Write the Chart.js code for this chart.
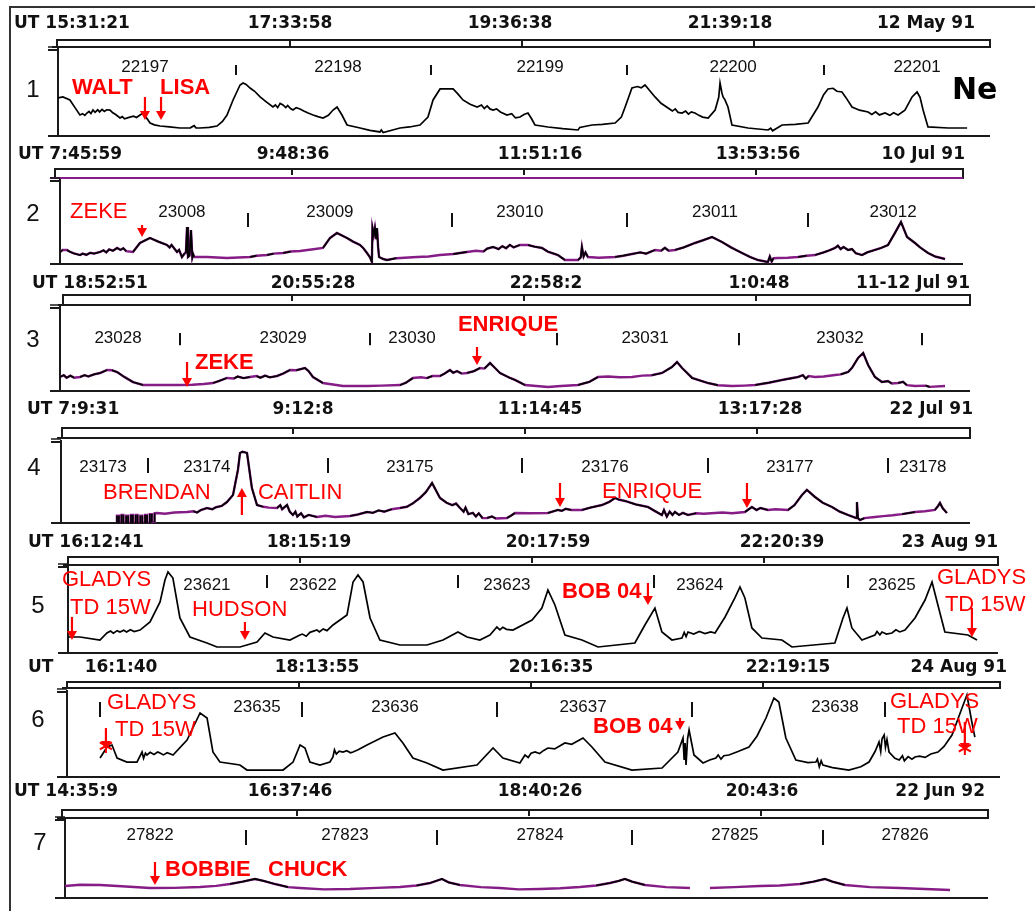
<!DOCTYPE html>
<html>
<head>
<meta charset="utf-8">
<script src="https://cdn.jsdelivr.net/npm/chart.js@4.4.1/dist/chart.umd.min.js"></script>
<style>
  html, body { margin: 0; padding: 0; background: #fff; }
  #page { position: relative; width: 1035px; height: 911px; overflow: hidden; background: #fff; }
  #page canvas { position: absolute; left: 0; top: 0; }
  #frame { position: absolute; left: 9px; top: 6px; width: 1040px; height: 920px;
           border-left: 2px solid #333; border-top: 2px solid #333; }
</style>
</head>
<body>
<div id="page"><div id="frame"></div></div>
<script>
// ---------------------------------------------------------------
// Electron density (Ne, relative units 0-100) along seven passes.
// x = minutes after the first UT label of each strip.
// ---------------------------------------------------------------

// Strip 1 - 12 May 91
const times1 = ['15:31:21', '17:33:58', '19:36:38', '21:39:18'];
const date1 = '12 May 91';
const orbits1 = ['22197', '22198', '22199', '22200', '22201'];
const storms1 = ['WALT', 'LISA'];
const ne1 = [[0,44.2],[2.6,45.4],[6.3,41.9],[9,33],[11.6,24.4],[13,26],[14.2,24],[15.3,26.7],[16.4,28.5],[17.4,26],[18.5,30.2],[19.6,27.5],[21,30.5],[22,28],[23.3,31],[24.5,28.5],[25.8,30.5],[27.5,30.2],[29,27],[30.5,25],[32.8,20.9],[34,22.5],[35.2,20],[38,22],[40,23],[41.5,21.5],[43.4,24.4],[45,26.7],[46.5,22],[48.7,15.1],[51,13],[54,11.6],[59,10.5],[64.5,9.3],[70,9.5],[72,12],[73,9.5],[75.1,9.3],[80,10],[84.1,11.6],[87,17],[89.4,24.4],[92.6,41.9],[96.3,59.3],[97.9,61.6],[99.5,60],[101.6,55.8],[104,52],[106.9,45.4],[110,40],[113.7,33.7],[115,36],[116.2,33],[117.5,38],[119,36.1],[120.5,33],[121.5,35.5],[123,32],[124.3,30.2],[126,33],[128,31.4],[130,29],[132,27],[134.9,24.4],[137.5,22.5],[140.2,20.9],[143,24],[145.5,30.2],[147.6,33.7],[150.2,24.4],[152.9,12.8],[159.8,9.3],[165,6.5],[170.3,4.7],[171,7],[172,4],[180.9,9.3],[186,10.5],[191.5,12.8],[195.7,22.1],[198.4,41.9],[202.1,54.7],[209,54.7],[211.5,49],[214.2,41.9],[218,37],[221.7,33.7],[224,36],[225.5,32],[227,35],[228.5,31.5],[230.1,30.2],[232,31.5],[234,28],[237.5,24.4],[240,26],[242,21],[244.4,22.1],[246.5,25],[248.6,26.7],[250.5,20],[252.3,12.8],[259.2,10.5],[267,8.5],[275.1,7],[276,10],[282.5,12.8],[288,13.5],[294.7,15.1],[298,22],[300,33.7],[303.6,55.8],[306.5,57.5],[308.5,56],[310.5,59.3],[315.8,45.4],[319,38],[322.7,32.6],[325,29],[326.5,31.5],[328,27.5],[330.1,26.7],[332,29],[333.5,25.5],[335,28],[336.9,26.7],[339,24],[341,22],[343.9,20.9],[347.6,30.2],[349.5,45],[350.2,61.6],[351.2,50],[351.8,45.4],[352.8,42],[354.4,33.7],[356.5,12.8],[365,9.3],[375.6,7],[377,9],[378,6],[383,12.8],[390,13.5],[396.8,15.1],[402,33.7],[405,48],[407.3,54.7],[410,55.5],[412,52],[414.7,51.2],[417,44],[420,33.7],[424,30],[428.5,27.9],[430.5,25],[432.5,28],[434.5,24.5],[437.5,26.7],[440,24],[442,27],[444.4,24.4],[448,30],[451.8,45.4],[454.4,51.2],[456,45],[457.6,30.2],[460.2,10.5],[470.8,9.3],[480.9,9.3]];

// Strip 2 - 10 Jul 91
const times2 = ['7:45:59', '9:48:36', '11:51:16', '13:53:56'];
const date2 = '10 Jul 91';
const orbits2 = ['23008', '23009', '23010', '23011', '23012'];
const storms2 = ['ZEKE'];
const ne2 = [[0,14.5],[1.5,17],[3.7,16.9],[5,15],[7,13],[10.6,10.8],[12,12.5],[14,11],[16,13.5],[18,12.5],[21.2,14.5],[23,16.5],[24.5,14],[26,17.5],[28,16],[30.2,19.3],[32,17],[33.5,19],[35,15.5],[38.6,14.5],[42.3,25.3],[47.6,31.3],[52,27],[56.6,22.9],[58,20],[59,23],[61.9,14.5],[63,17],[64.5,8.4],[66.1,13.3],[66.6,13.3],[67.2,44.6],[67.7,8.4],[68.5,10],[69.3,41],[70,8.4],[70.4,12],[71,8.4],[77.8,8.4],[88.3,7.2],[100.5,8.4],[104,10],[109.5,10.8],[113,12.5],[118,13.3],[122,15],[127,15.7],[133,17.5],[139.1,19.3],[142.8,31.3],[146.5,37.4],[151.8,31.3],[155,27],[158.7,22.9],[160.5,19],[162.4,13.3],[164,8],[165,2.4],[165.3,43.4],[166,35],[166.6,43.4],[167.3,30],[167.7,43.4],[168.3,20],[168.8,8.4],[171,6],[173,4.8],[178,7],[188.9,8.4],[195,9],[201,10.8],[208,12],[215.3,14.5],[220,16],[224,15],[226,18.5],[229.1,20.5],[232,18],[234,21.5],[236,19],[238,23],[240,20],[243.3,22.9],[247.6,22.9],[251,21],[255,19.3],[258,15],[263.4,10.8],[267.1,4.8],[274,4.8],[275.5,8],[276.1,20.5],[277,9],[278,14],[279.3,8.4],[285,7.5],[293.6,8.4],[298,10],[302.6,12],[307,14],[310,12.5],[314.8,16.9],[318,16],[320,19.5],[322,16],[325.3,16.9],[330,20],[335.9,25.3],[340,28.5],[344.9,32.5],[350.2,26.5],[355,20],[360.8,13.3],[365,8.5],[369.2,4.8],[374.5,2.4],[375.5,9],[376.5,3],[377.5,7],[379.8,7.2],[385,7.5],[390.4,8.4],[395,10],[399.4,10.8],[404,14],[407,16.5],[410,19.3],[411.5,22],[413,18],[414.5,20.5],[416.9,16.9],[419,18],[421,13],[424.3,10.8],[427,14],[431.1,16.9],[434,19],[438,22.9],[441.7,37.4],[444.9,50.6],[448.1,32.5],[452.3,25.3],[455,20],[459.2,13.3],[463,9],[468.2,6]];

// Strip 3 - 11-12 Jul 91
const times3 = ['18:52:51', '20:55:28', '22:58:2', '1:0:48'];
const date3 = '11-12 Jul 91';
const orbits3 = ['23028', '23029', '23030', '23031', '23032'];
const storms3 = ['ZEKE', 'ENRIQUE'];
const ne3 = [[0,16.9],[2,19],[3.5,16],[5.5,18.5],[7.5,16],[10.6,16.9],[13,19],[15,17.5],[18,20],[21.2,21.7],[24.9,25.3],[27.5,25],[30.2,22.9],[34,17],[38.6,10.8],[43.9,7.2],[63.5,7.2],[70,7.5],[76,8.5],[80.9,9.6],[84,12],[88.3,15.7],[92,15],[94,17.5],[97,15.5],[100.5,16.9],[104,18],[106,16],[108.5,18.5],[111,16.5],[114.8,18.1],[118,21],[121.7,25.3],[125,25],[129.6,27.7],[131.5,24],[133.8,16.9],[139.1,9.6],[149.7,6],[162.4,6],[170,6.5],[179.9,7.2],[183,10],[186.7,15.7],[191,16.5],[194,15.5],[197,18],[201,18.1],[203.5,21],[206.3,25.3],[208,22],[210,24],[212.5,21],[215.3,21.7],[219,24],[222.2,27.7],[224.5,27],[227.5,33.7],[230,28],[232.8,21.7],[238.1,15.7],[240.7,13.3],[246,7.2],[252,6],[258.2,4.8],[265,6],[274,7.2],[280,11],[284.6,16.9],[290,17.5],[296,16.5],[302.6,16.9],[308,18.5],[313,19],[318.5,21.7],[323.7,28.9],[326.4,34.9],[329.1,27.7],[334.4,15.7],[342.8,9.6],[348,7],[355.5,6],[362,6.5],[367.7,7.2],[375,10],[381.9,13.3],[386,15],[390.4,16.9],[393,19],[394.5,15],[396,18],[399.4,16.9],[404,17.5],[410,19.3],[413,20],[416.9,22.9],[419,28],[422.2,39.8],[424.9,45.8],[427.5,31.3],[431.1,16.9],[434.8,10.8],[438,12],[440,9],[443.3,9.6],[446,11],[448,7],[452.3,6],[458,6.5],[460,5],[468.2,6]];

// Strip 4 - 22 Jul 91
const times4 = ['7:9:31', '9:12:8', '11:14:45', '13:17:28'];
const date4 = '22 Jul 91';
const orbits4 = ['23173', '23174', '23175', '23176', '23177', '23178'];
const storms4 = ['BRENDAN', 'CAITLIN', 'ENRIQUE'];
const ne4 = [[29.6,0],[29.6,9],[30.6,9],[30.6,0],[32,0],[32,10],[33,10],[33,0],[34.5,0],[34.5,9],[35.5,9],[35.5,0],[37,0],[37,10],[38,10],[38,0],[39.5,0],[39.5,10],[40.5,10],[40.5,0],[42,0],[42,9],[43,9],[43,0],[44.5,0],[44.5,10],[45.5,10],[45.5,0],[47,0],[47,11],[48,11],[48,1],[49.5,1],[49.5,12],[50.8,12.4],[55,11.5],[60,13],[66.7,13.6],[70,14.5],[72,13],[74,16],[77.2,18.5],[80,17],[82,19.5],[85,21],[87.8,25.9],[91,34.6],[93.6,65.5],[94.7,86.5],[96,88],[98.4,86.5],[101,43.2],[103.7,22.2],[107,20],[110,19],[114.3,18.5],[116,22],[117,17],[119.6,22.2],[121,14],[122.7,9.9],[124,14],[125,8],[127,12],[128.5,7],[131,10],[135.4,7.4],[140,9],[145,7.5],[152.9,8.6],[157,10.5],[161.9,13.6],[165,12.5],[168,15.5],[171,14],[175,17],[179.3,18.5],[183,20],[186,24],[189.9,30.9],[193,38],[196.3,49.4],[200.5,30.9],[204,25],[207,22],[209,24],[211.1,18.5],[213,14],[214,19],[215.5,11],[217.9,12.4],[219.5,8],[221,12],[223,6],[225.4,6.2],[228,8],[230,5.5],[235.9,6.2],[238,9],[240.2,12.4],[248,12],[257.6,12.4],[262.9,16.1],[265,15],[267,17.5],[270,16],[275.6,16.1],[280,19],[286.2,22.2],[290,26],[293.1,30.9],[295,29],[298.4,27.2],[304,23],[310.5,19.8],[314,15],[317.9,9.9],[319,16],[320.5,8],[322,14],[323.5,10],[324.8,13.6],[327,10],[329,12.5],[331.7,9.9],[336,12],[340,11.5],[346,12.4],[350,13],[355,12],[361.8,13.6],[365.5,19.8],[368,16],[370,18.5],[374,16.1],[378,17],[384.6,16.1],[388,22],[392,34.6],[394.6,40.8],[398.9,32.1],[403,25],[407.9,19.8],[412,14],[416.3,9.9],[420.6,6.2],[421.1,25.9],[421.6,6],[422.7,3.7],[425,6],[430.6,7.4],[435,8.5],[440,9.5],[445,11],[451.8,13.6],[457,14.5],[462.3,16.1],[464,21],[465,24.7],[466.5,18],[468.7,12.4]];

// Strip 5 - 23 Aug 91
const times5 = ['16:12:41', '18:15:19', '20:17:59', '22:20:39'];
const date5 = '23 Aug 91';
const orbits5 = ['23621', '23622', '23623', '23624', '23625'];
const storms5 = ['GLADYS', 'TD 15W', 'HUDSON', 'BOB 04', 'GLADYS', 'TD 15W'];
const ne5 = [[0,18.6],[6.3,18.6],[16.9,15.1],[20.6,23.3],[22.5,25.5],[24,23],[26,26],[27.5,24.4],[29.5,26.5],[31,24.5],[33,27],[35,25],[38.1,26.7],[43.4,36.1],[48.7,59.3],[51.3,84.9],[52.9,94.2],[55.5,87.2],[59.2,40.7],[64.5,18.6],[73.5,11.6],[78.8,7],[91,7],[100,12.8],[104.2,23.3],[108.4,18.6],[117.4,15.1],[122.7,20.9],[124,22],[126,19.5],[128,24],[131.7,26.7],[133,24.5],[135,28],[137,26],[140.2,32.6],[147.6,44.2],[150.8,82.6],[153.4,90.7],[156.1,82.6],[159.8,40.7],[165,15.1],[175.6,9.3],[189.9,9.3],[198.4,15.1],[206.3,24.4],[211.1,18.6],[217.9,15.1],[223.2,20.9],[226.9,30.2],[228.5,27],[230,30],[232,27.5],[235.4,26.7],[245.5,38.4],[250.7,52.3],[253.9,73.3],[257.6,55.8],[262.9,20.9],[271.9,15.1],[280.4,7],[299.9,11.6],[305.2,32.6],[310.5,52.3],[314.2,24.4],[319.5,15.1],[324.8,17.4],[326,24],[327,19],[328,24.4],[331,22],[334,25],[337,22.5],[340,24.5],[342.3,23.3],[347.6,41.9],[352.8,64],[355.5,76.8],[358.1,64],[361.8,29.1],[367.1,17.4],[377.7,15.1],[383,7],[405.7,11.6],[410,40.7],[412.1,52.3],[414.7,29.1],[420,15.1],[426.9,20.9],[428,25],[429.5,21],[430.6,24.4],[433,22],[435.9,23.3],[438,27],[440,24.5],[442.8,26.7],[448.1,40.7],[453.4,61.6],[457.1,82.6],[460.2,55.8],[463.9,24.4],[476.1,20.9],[480.9,15.1]];

// Strip 6 - 24 Aug 91
const times6 = ['16:1:40', '18:13:55', '20:16:35', '22:19:15'];
const date6 = '24 Aug 91';
const orbits6 = ['23635', '23636', '23637', '23638'];
const storms6 = ['GLADYS', 'TD 15W', 'BOB 04', 'GLADYS', 'TD 15W'];
const ne6 = [[17.5,22.3],[21.2,35.3],[23.8,37.6],[26.5,22.3],[31.7,17.6],[37,17.6],[39.7,29.4],[40.5,22],[41.5,28],[42.3,25.9],[44,29],[46,26.5],[48,29.5],[49.2,28.2],[51,26],[53,28.5],[56.1,25.9],[63.5,43.5],[70.4,75.3],[74.1,69.4],[77.2,29.4],[80.9,17.6],[91.5,14.1],[95.2,8.2],[114.3,8.2],[119.6,17.6],[123.3,37.6],[125.9,34.1],[128.5,17.6],[133.8,14.1],[139.1,17.6],[140.7,23.5],[141.5,32],[142.5,27],[144,30.5],[146,29.4],[148,31],[150,28.5],[151.3,29.4],[154,32],[158.7,37.6],[167.2,47],[173.5,51.7],[177.7,40],[183,22.3],[190.4,16.5],[198.9,8.2],[216.9,14.1],[225.4,34.1],[230.6,22.3],[239.6,16.5],[242.3,25.9],[244,23],[245.5,28],[247.6,29.4],[250,27.5],[252,31],[254.4,34.1],[258,33],[263.4,40],[267,38.5],[273,45.9],[277.7,35.3],[284.6,17.6],[298.9,8.2],[314.8,10.6],[323.2,29.4],[325.9,45.9],[326.5,20],[327,40],[327.5,14.1],[328.3,45],[329.1,55.3],[331.7,25.9],[336.5,16.5],[340,20],[343.3,22.3],[344.5,26],[346,21],[347.5,25],[350.2,25.9],[355,30],[360.8,35.3],[365,48],[369.8,69.4],[374,92.9],[376.6,88.2],[380.3,45.9],[385.6,20],[392,17],[396.2,17.6],[397,21],[398,12],[399,19],[399.9,14.1],[405,11],[413.6,8.2],[420,12],[424.3,17.6],[427.5,30],[429.6,41.2],[430.5,30],[431.2,45],[432.3,49.4],[433,35],[433.8,44],[434.9,29.4],[438,22],[440.3,20],[442,25],[443,19],[445,24],[447,21],[448.6,23.5],[451,24.5],[454,23],[457,27],[460.8,29.4],[464,36],[468.2,49.4],[473.5,81.1],[476.1,96.4],[478.7,64.7],[480.3,47]];

// Strip 7 - 22 Jun 92
const times7 = ['14:35:9', '16:37:46', '18:40:26', '20:43:6'];
const date7 = '22 Jun 92';
const orbits7 = ['27822', '27823', '27824', '27825', '27826'];
const storms7 = ['BOBBIE', 'CHUCK'];
const ne7 = [[0,15.4],[8,17],[18.5,16.7],[30,15],[45,12.8],[58,13],[71.4,14.1],[80,15.5],[87.3,17.9],[94,21],[100.5,24.4],[105,22],[111.1,17.9],[118,14],[124.3,12.8],[137,11],[150.8,11.5],[165,13],[177.2,14.1],[186,16],[193.1,19.2],[199.4,24.4],[203,20],[208.9,16.7],[220,14],[230.1,12.8],[240,11],[251.3,11.5],[262,12.5],[272.4,14.1],[281,16],[288.3,19.2],[293,22],[296.2,24.4],[300,21],[306.8,16.7],[318,14],[330.6,12.8],[335,null],[341.2,12.8],[354,14],[367.7,15.4],[378,16],[388.8,17.9],[396,21],[402,24.4],[406,21],[412.6,16.7],[426,14],[441.7,12.8],[455,11.5],[468.2,10.3]];

// Minutes between the UT labels along the top of each strip
const LABEL_STEP = 122.67;

// ---------------------------------------------------------------
// Page layout for each strip (pixels for the page, minutes / Ne
// units for anything placed through the chart scales)
// ---------------------------------------------------------------
const PURPLE = '#861c86';
const strips = [
  { num: '1', numPos: [33, 90], data: ne1, purple: false,
    L: 58, R: 990, top: 50, B: 136, xMax: 493,
    bar: { top: 40, bot: 47, left: 57 },
    head: { y: 24, ut: 14, x: [87, 290, 510, 730], dateRight: 975, times: times1, date: date1 },
    orbits: orbits1, orbitX: [46, 148.1, 255, 357.1, 454.4], orbitY: 80.2,
    edges: [94.2, 197.3, 301, 405.2], edgeY: [82.6, 70.9],
    storms: storms1, stormPos: [[7.4, 55.8, true], [54, 55.8, true]],
    arrows: [[46, 45.4, 18.6], [54.5, 45.4, 18.6]] },
  { num: '2', numPos: [33, 214], data: ne2, purple: true,
    L: 60, R: 963, top: 181, B: 264, xMax: 477.7,
    bar: { top: 169, bot: 178, left: 55, botColor: PURPLE },
    head: { y: 155, ut: 18, x: [85, 293, 540, 758], dateRight: 965, times: times2, date: date2 },
    orbits: orbits2, orbitX: [64.5, 142.8, 243.3, 346.5, 440.7], orbitY: 62.7,
    edges: [99.5, 207.4, 300, 395.7], edgeY: [61.4, 44.6],
    storms: storms2, stormPos: [[5.3, 62.7, false]],
    arrows: [[43.4, 47, 32.5]] },
  { num: '3', numPos: [33, 340], data: ne3, purple: true,
    L: 60, R: 970, top: 308, B: 391, xMax: 481.4,
    bar: { top: 295, bot: 305, left: 63 },
    head: { y: 284, ut: 32, x: [105, 313, 546, 759], dateRight: 970, times: times3, date: date3 },
    orbits: orbits3, orbitX: [30.7, 118, 186.2, 309.5, 412.6], orbitY: 63.9,
    edges: [63.5, 164, 263, 359.2, 456], edgeY: [70, 55],
    storms: storms3, stormPos: [[71.4, 33.7, true], [210.5, 79.5, true]],
    arrows: [[67.2, 34.9, 4.8], [220.6, 53, 31.3]] },
  { num: '4', numPos: [34, 468], data: ne4, purple: true,
    L: 61, R: 970, top: 442, B: 523, xMax: 480.9,
    bar: { top: 428, bot: 438, left: 62 },
    head: { y: 410, ut: 27, x: [88, 303, 540, 760], dateRight: 973, times: times4, date: date4 },
    orbits: orbits4, orbitX: [22.2, 77.2, 184.6, 287.8, 385.6, 456], orbitY: 69.2,
    edges: [46, 141.2, 243.9, 342.3, 437.5], edgeY: [80.3, 61.8],
    storms: storms4, stormPos: [[22.2, 37, false], [104.2, 37, false], [286.2, 38.3, false]],
    arrows: [[95.7, 9.9, 43.2], [264, 49.4, 19.8], [362.9, 49.4, 18.5]] },
  { num: '5', numPos: [38, 606], data: ne5, purple: false,
    L: 68, R: 998, top: 567, B: 653, xMax: 492,
    bar: { top: 557, bot: 565, left: 68 },
    head: { y: 543, ut: 28, x: [101, 309, 548, 782], dateRight: 998, times: times5, date: date5 },
    orbits: orbits5, orbitX: [73.5, 129.6, 232.2, 334.3, 435.9], orbitY: 79.1,
    edges: [105.3, 206.3, 310, 412.6], edgeY: [90.7, 75.6],
    storms: storms5, stormPos: [[-3.2, 84.9, false], [1.1, 52.3, false], [65.6, 50, false], [261.3, 70.9, true], [459.7, 87.2, false], [463.9, 55.8, false]],
    arrows: [[2.1, 41.9, 15.1], [93.6, 36.1, 15.1], [306.8, 81.4, 55.8], [478.2, 52.3, 18.6]] },
  { num: '6', numPos: [38, 720], data: ne6, purple: false,
    L: 67, R: 1000, top: 692, B: 777, xMax: 493.6,
    bar: { top: 682, bot: 688, left: 67 },
    head: { y: 668, ut: 28, x: [121, 317, 551, 788], dateRight: 1007, times: times6, date: date6, split: true },
    orbits: orbits6, orbitX: [100.5, 173.5, 273, 406.3], orbitY: 82.3,
    edges: [17.5, 124.3, 227.5, 330.6, 432.7], edgeY: [88.2, 70.6],
    storms: storms6, stormPos: [[21.2, 87, false], [25.4, 55.3, false], [278.3, 58.8, true], [435.4, 88.2, false], [439.1, 58.8, false]],
    arrows: [[20.6, 57.6, 31.8, true], [324.3, 69.4, 55.3], [475, 64.7, 29.4, true]] },
  { num: '7', numPos: [40, 843], data: ne7, purple: true,
    L: 65, R: 988, top: 820, B: 898, xMax: 488.3,
    bar: { top: 810, bot: 818, left: 62 },
    head: { y: 792, ut: 14, x: [81, 290, 540, 762], dateRight: 985, times: times7, date: date7 },
    orbits: orbits7, orbitX: [45, 148.1, 251.3, 354.4, 444.4], orbitY: 80.8,
    edges: [95.7, 196.8, 300, 401], edgeY: [87.2, 67.9],
    storms: storms7, stormPos: [[52.9, 35.9, true], [107.4, 35.9, true]],
    arrows: [[47.6, 46.2, 16.7]] }
];

const W = 1035, H = 911;
const SANS = '"Liberation Sans", Arial, sans-serif';
const HEAD = '"DejaVu Sans", Verdana, sans-serif';

function seg(c, x0, y0, x1, y1) {
  c.beginPath(); c.moveTo(x0, y0); c.lineTo(x1, y1); c.stroke();
}

function star(c, x, y) {
  c.save();
  c.lineWidth = 2;
  for (let k = 0; k < 3; k++) {
    const a = Math.PI / 2 + k * Math.PI / 3;
    seg(c, x - 7 * Math.cos(a), y - 7 * Math.sin(a), x + 7 * Math.cos(a), y + 7 * Math.sin(a));
  }
  c.restore();
}

function redArrow(c, x, yTail, yHead, withStar) {
  const dir = yHead > yTail ? 1 : -1;
  c.save();
  c.strokeStyle = '#ff0000'; c.fillStyle = '#ff0000'; c.lineWidth = 2.2;
  seg(c, x, yTail, x, yHead - dir * 6);
  c.beginPath();
  c.moveTo(x - 5, yHead - dir * 9);
  c.lineTo(x + 5, yHead - dir * 9);
  c.lineTo(x, yHead);
  c.closePath(); c.fill();
  if (withStar) star(c, x, yHead - dir * 4);
  c.restore();
}

function decorFor(s) {
  return {
    id: 'decor' + s.num,
    beforeDatasetsDraw(chart) {
      const c = chart.ctx, xs = chart.scales.x, a = chart.chartArea;
      c.save();
      c.strokeStyle = '#1a1a1a';
      c.lineWidth = 2;
      // time bar above the strip
      seg(c, s.bar.left, s.bar.top, s.R, s.bar.top);
      seg(c, s.R, s.bar.top - 1, s.R, s.bar.bot + 1);
      seg(c, s.bar.left, s.bar.top - 1, s.bar.left, s.bar.bot + 1);
      c.strokeStyle = s.bar.botColor || '#1a1a1a';
      seg(c, s.bar.left - 5, s.bar.bot, s.R, s.bar.bot);
      c.strokeStyle = '#1a1a1a';
      for (let i = 1; i <= 3; i++) {
        const x = Math.round(xs.getPixelForValue(i * LABEL_STEP));
        seg(c, x, s.bar.top, x, s.bar.top + 6);
      }
      // strip frame: left axis, base line and the short marks at its top
      seg(c, a.left, a.top - 2, a.left, a.bottom);
      seg(c, a.left - 10, a.top, a.left, a.top);
      c.lineWidth = 1.5;
      seg(c, a.left - 10, a.top - 3, a.left, a.top - 3);
      c.lineWidth = 2;
      seg(c, a.left - 10, a.bottom, s.R, a.bottom);
      c.restore();
    },
    afterDatasetsDraw(chart) {
      const c = chart.ctx, xs = chart.scales.x, ys = chart.scales.y;
      const px = v => xs.getPixelForValue(v), py = v => ys.getPixelForValue(v);
      c.save();
      c.textBaseline = 'middle';
      // UT labels and date
      c.fillStyle = '#111';
      c.font = 'bold 17px ' + HEAD;
      c.textAlign = 'left';
      c.fillText(s.head.split ? 'UT' : 'UT ' + s.head.times[0], s.head.ut, s.head.y);
      c.textAlign = 'center';
      s.head.times.forEach((t, i) => {
        if (i === 0 && !s.head.split) return;
        c.fillText(t, s.head.x[i], s.head.y);
      });
      c.textAlign = 'right';
      c.fillText(s.head.date, s.head.dateRight, s.head.y);
      // strip number
      c.font = '24px ' + SANS;
      c.textAlign = 'center';
      c.fillText(s.num, s.numPos[0], s.numPos[1]);
      // orbit numbers and orbit boundaries
      c.font = '17px ' + SANS;
      s.orbits.forEach((o, i) => c.fillText(o, px(s.orbitX[i]), py(s.orbitY)));
      c.strokeStyle = '#111';
      c.lineWidth = 2;
      s.edges.forEach(e => {
        const x = Math.round(px(e));
        seg(c, x, py(s.edgeY[0]), x, py(s.edgeY[1]));
      });
      // storm names and markers
      c.fillStyle = '#ff0000';
      c.textAlign = 'left';
      s.storms.forEach((name, i) => {
        const p = s.stormPos[i];
        c.font = (p[2] ? 'bold ' : '') + '22px ' + SANS;
        c.fillText(name, px(p[0]), py(p[1]));
      });
      s.arrows.forEach(ar => redArrow(c, px(ar[0]), py(ar[1]), py(ar[2]), ar[3]));
      if (s.num === '1') {
        c.fillStyle = '#000';
        c.font = 'bold 30px ' + HEAD;
        c.textAlign = 'left';
        c.fillText('Ne', 952, 91);
      }
      c.restore();
    }
  };
}

const page = document.getElementById('page');
strips.forEach(s => {
  const cv = document.createElement('canvas');
  cv.width = W; cv.height = H;
  cv.style.width = W + 'px'; cv.style.height = H + 'px';
  page.appendChild(cv);
  // The black trace is listed first so that it is painted over the purple one.
  const datasets = [{
    data: s.data, borderColor: '#000', borderWidth: 1.7, pointRadius: 0, tension: 0, spanGaps: false,
    segment: s.purple ? {
      borderColor: ctx => {
        const dx = Math.abs(ctx.p1.x - ctx.p0.x) || 0.01;
        const dy = Math.abs(ctx.p1.y - ctx.p0.y);
        return dy / dx > 0.15 ? '#000' : 'rgba(0,0,0,0)';
      }
    } : undefined
  }];
  if (s.purple) {
    datasets.push({ data: s.data, borderColor: PURPLE, borderWidth: 2.4, pointRadius: 0, tension: 0, spanGaps: false });
  }
  new Chart(cv, {
    type: 'line',
    data: { datasets },
    options: {
      responsive: false, animation: false, devicePixelRatio: 1,
      layout: { padding: { left: s.L, right: W - s.R, top: s.top, bottom: H - s.B } },
      scales: {
        x: { type: 'linear', min: 0, max: s.xMax, display: false },
        y: { type: 'linear', min: 0, max: 100, display: false }
      },
      plugins: { legend: { display: false }, tooltip: { enabled: false } },
      events: []
    },
    plugins: [decorFor(s)]
  });
});
</script>
</body>
</html>
